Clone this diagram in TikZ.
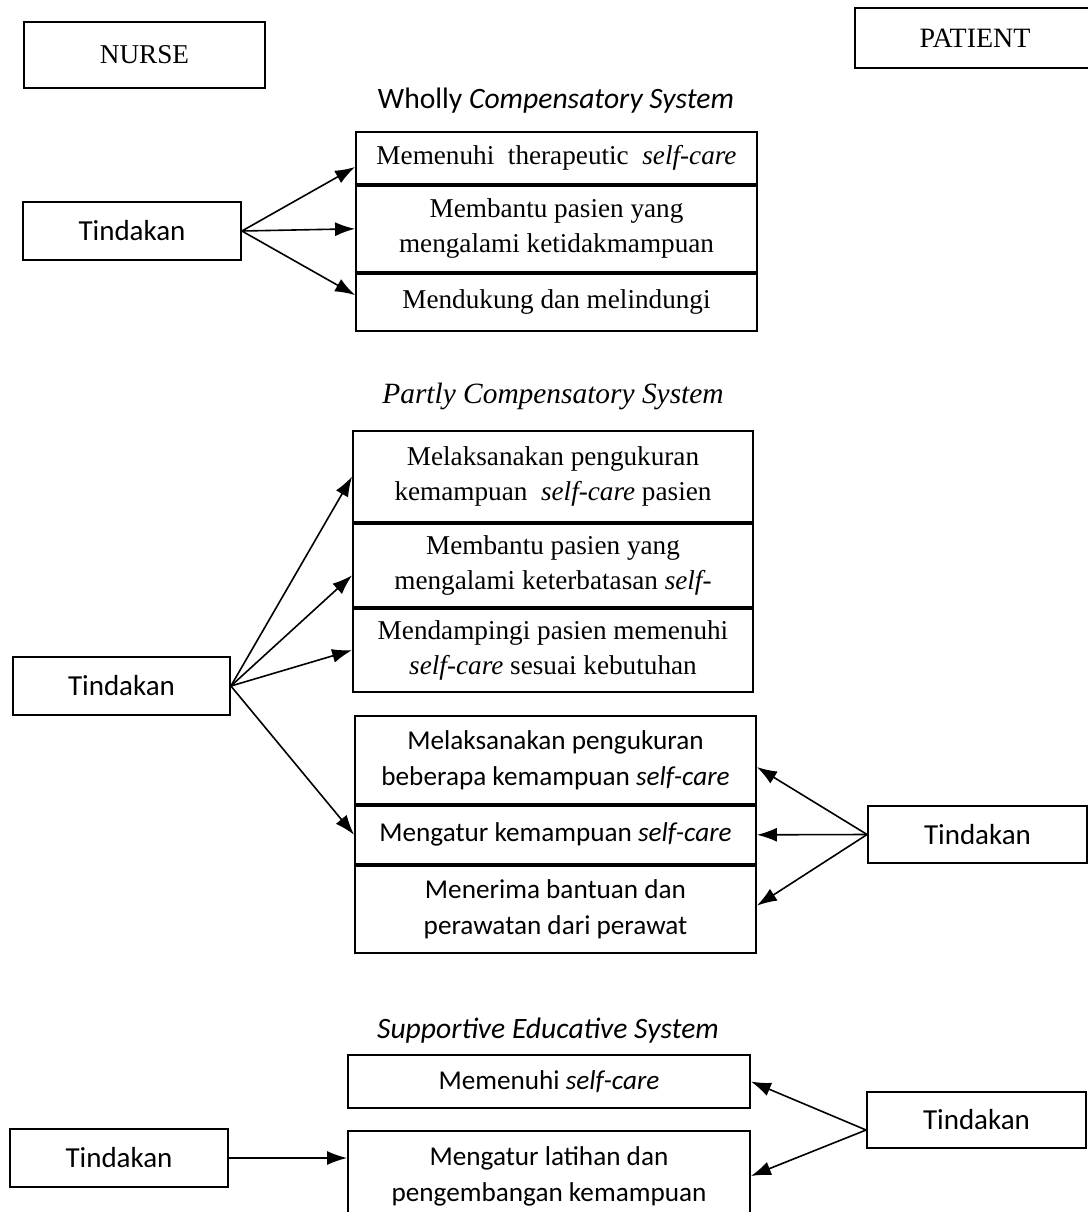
\documentclass[tikz,border=0pt]{standalone}
\usepackage{fontspec}
\setmainfont{Liberation Serif}
\newfontfamily\calibri{Carlito}
\usetikzlibrary{positioning,calc,arrows.meta}

\begin{document}
\begin{tikzpicture}[x=0.5pt,y=-0.5pt,
		box/.style={draw=black,line width=0.9pt,align=center,inner sep=0pt,font=\fontsize{13.6}{17.5}\selectfont},
		sbox/.style={box,font=\calibri\fontsize{13.6}{18}\selectfont},
		tbox/.style={box,font=\calibri\fontsize{14.5}{18}\selectfont},
		arr/.style={-{Latex[length=10pt,width=7pt]},line width=0.8pt}]
		\useasboundingbox (0,0) rectangle (1088,1212);
		\node[box,minimum width=120.5pt,minimum height=33pt] (nurse) at (144.5,55) {NURSE};
		\node[box,minimum width=120pt,minimum height=30pt,font=\fontsize{14}{16}\selectfont] (patient) at (975,38) {PATIENT};
		
		\node[font=\calibri\fontsize{14.8}{16}\selectfont] (wholly) at (556,101) {Wholly \textit{Compensatory System}};
		\node[box,minimum width=200.5pt,minimum height=26pt] (w1) at (556.5,158) {Memenuhi~ therapeutic~ \textit{self-care}};
		\node[box,minimum width=200.5pt,minimum height=43pt,anchor=north] (w2) at (w1.south) {Membantu pasien yang\\mengalami ketidakmampuan};
		\node[box,minimum width=200.5pt,minimum height=28.5pt,anchor=north] (w3) at (w2.south) {Mendukung dan melindungi};
		\node[tbox,minimum width=109pt,minimum height=29pt] (t1) at (132,231) {Tindakan};
		
		\draw[arr] (t1.east)--([yshift=-4.5pt]w1.west);
		\draw[arr] (t1.east)--(w2.west);
		\draw[arr] (t1.east)--([yshift=3.5pt]w3.west);
		
		\node[font=\fontsize{14.7}{16}\selectfont] (partly) at (553,396) {\textit{Partly Compensatory System}};
		\node[box,minimum width=200pt,minimum height=45.5pt] (p1) at (553,476.5) {Melaksanakan pengukuran\\kemampuan~ \textit{self-care} pasien};
		\node[box,minimum width=200pt,minimum height=41.5pt,anchor=north] (p2) at (p1.south) {Membantu pasien yang\\mengalami keterbatasan \textit{self-}};
		\node[box,minimum width=200pt,minimum height=41.5pt,anchor=north] (p3) at (p2.south) {Mendampingi pasien memenuhi\\\textit{self-care} sesuai kebutuhan};
		\node[sbox,minimum width=200.5pt,minimum height=44pt] (q1) at (555.5,760) {Melaksanakan pengukuran\\beberapa kemampuan \textit{self-care}};
		\node[sbox,minimum width=200.5pt,minimum height=29pt,anchor=north] (q2) at (q1.south) {Mengatur kemampuan \textit{self-care}};
		\node[sbox,minimum width=200.5pt,minimum height=43.5pt,anchor=north] (q3) at (q2.south) {Menerima bantuan dan\\perawatan dari perawat};
		\node[tbox,minimum width=108.5pt,minimum height=29pt] (t2) at (121.5,686) {Tindakan};
		\node[tbox,minimum width=109.5pt,minimum height=28.5pt] (t3) at (977.5,834.5) {Tindakan};
		
		\draw[arr] (t2.east)--(p1.west);
		\draw[arr] (t2.east)--([yshift=-5pt]p2.west);
		\draw[arr] (t2.east)--(p3.west);
		\draw[arr] (t2.east)--(q2.west);
		\draw[arr] (t3.west)--([yshift=-3.5pt]q1.east);
		\draw[arr] (t3.west)--(q2.east);
		\draw[arr] (t3.west)--([yshift=1.75pt]q3.east);
		
		\node[font=\calibri\fontsize{14.8}{16}\selectfont] (supportive) at (548,1031) {\textit{Supportive Educative System}};
		\node[sbox,minimum width=201pt,minimum height=26.5pt] (s1) at (549,1081.5) {Memenuhi \textit{self-care}};
		\node[sbox,minimum width=201pt,minimum height=45pt] (s2) at (549,1176) {Mengatur latihan dan\\pengembangan kemampuan};
		\node[tbox,minimum width=109pt,minimum height=29pt] (t4) at (119,1158) {Tindakan};
		\node[tbox,minimum width=109.5pt,minimum height=28pt] (t5) at (976.5,1120) {Tindakan};
		
		\draw[arr] (t4.east)--(t4.east -| s2.west);
		\draw[arr] ([yshift=-5pt]t5.west)--(s1.east);
		\draw[arr] ([yshift=-5pt]t5.west)--(s2.east);
	\end{tikzpicture}
\end{document}
